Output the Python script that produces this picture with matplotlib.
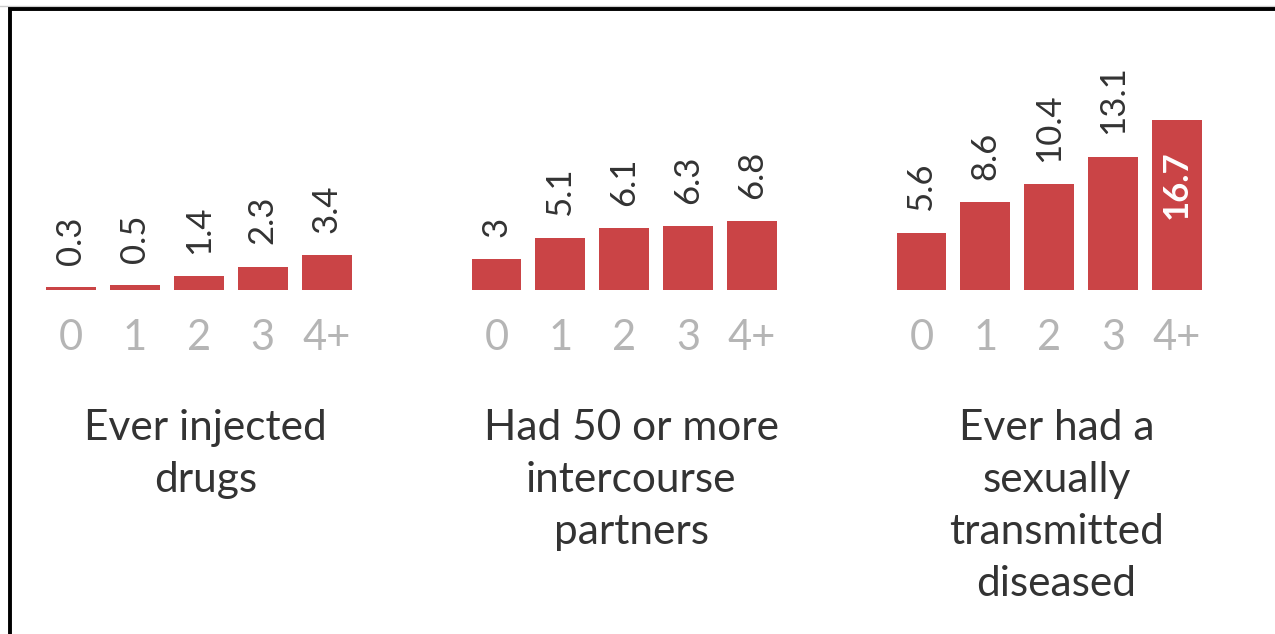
# three small bar panels: risk behaviour vs count
import numpy as np
import matplotlib
matplotlib.use("Agg")
from matplotlib import pyplot as plt
from matplotlib.lines import Line2D

plt.rcParams['font.family'] = ['Lato', 'DejaVu Sans']

# data
categories = ["0", "1", "2", "3", "4+"]
injected = [0.3, 0.5, 1.4, 2.3, 3.4]
partners = [3, 5.1, 6.1, 6.3, 6.8]
std = [5.6, 8.6, 10.4, 13.1, 16.7]
titles = ["Ever injected\ndrugs",
          "Had 50 or more\nintercourse\npartners",
          "Ever had a\nsexually\ntransmitted\ndiseased"]

BAR_COLOR = "#ca4446"
W, H = 1275, 634
STEP = 63.9          # px between bar centres
PX_PER_UNIT = 10.18  # px per value unit
BASE = 290           # baseline, px from top

fig = plt.figure(figsize=(W / 100, H / 100), dpi=100)

# 枠線（左と上）
fig.add_artist(Line2D([0, W], [H - 5.5, H - 5.5], transform=None,
                      color="#cccccc", lw=1))
fig.add_artist(Line2D([9.5, 9.5, W], [0, H - 8.5, H - 8.5], transform=None,
                      color="black", lw=2.8, solid_joinstyle="miter"))

def make_panel(first_center, values, title, title_dx):
    x0, x1 = -0.6, 4.6
    y1 = 25
    left = first_center + x0 * STEP
    width = (x1 - x0) * STEP
    height = y1 * PX_PER_UNIT
    ax = fig.add_axes([left / W, (H - BASE) / H, width / W, height / H])
    ax.set_xlim(x0, x1)
    ax.set_ylim(0, y1)
    x = np.arange(len(values))
    ax.bar(x, values, width=0.78, color=BAR_COLOR)
    vmax = max(values)
    for xi, v in zip(x, values):
        txt = "{:g}".format(v)
        if v == vmax and v > 15:
            # 一番高いバーは中に白で
            ax.annotate(txt, (xi, v), xytext=(0, -22), textcoords="offset points",
                        rotation=90, ha="center", va="top", color="white",
                        fontsize=25, fontweight="bold")
        else:
            ax.annotate(txt, (xi, v), xytext=(0, 16), textcoords="offset points",
                        rotation=90, ha="center", va="bottom", color="#333333",
                        fontsize=25)
    ax.set_xticks(x)
    ax.set_xticklabels(categories, fontsize=30, color="#b5b5b5")
    ax.tick_params(axis="x", length=0, pad=21)
    ax.set_yticks([])
    for s in ax.spines.values():
        s.set_visible(False)
    ax.patch.set_visible(False)
    cx = first_center + 2 * STEP + title_dx
    fig.text(cx / W, 1 - 409 / H, title, ha="center", va="top",
             fontsize=30.5, color="#333333", linespacing=1.45)
    return ax

make_panel(71, injected, titles[0], 7)
make_panel(496.5, partners, titles[1], 7)
make_panel(921.5, std, titles[2], 7)

fig.savefig("out.png", dpi=100)
